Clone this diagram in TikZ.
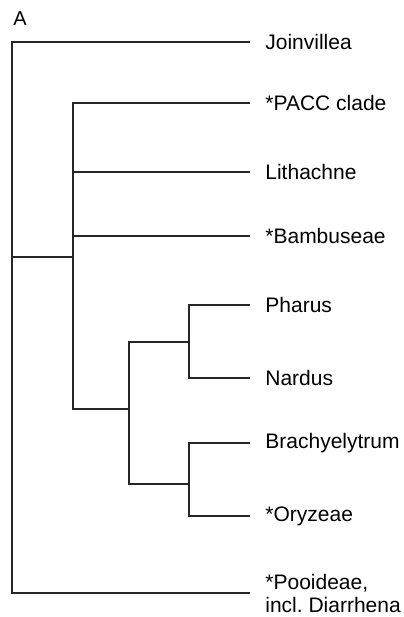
\documentclass[tikz,border=0pt]{standalone}
\usepackage{fontspec}
\setmainfont{Liberation Sans}

\begin{document}
\begin{tikzpicture}[x=0.5pt, y=-0.5pt,
    taxon/.style={anchor=west, inner sep=0pt, align=left,
      font=\fontsize{10.5}{11.5}\selectfont},
    branch/.style={line width=0.65pt, draw=black!85}]
  \useasboundingbox (0,0) rectangle (403,617);

  % panel letter
  \node[font=\fontsize{10}{11}\selectfont, inner sep=0pt] (panel) at (20,19) {A};

  % internal nodes of the tree
  \coordinate (root) at (12,257);
  \coordinate (nBop) at (73,257);
  \coordinate (nBop2) at (73,409);
  \coordinate (nPN) at (129,409);
  \coordinate (nPhNa) at (189,342);
  \coordinate (nBrOr) at (189,484);

  % tips and taxon labels
  \foreach \nm/\yy/\txt in {Join/42/Joinvillea, Pacc/103/*PACC clade,
      Lith/172/Lithachne, Bamb/236/*Bambuseae, Phar/305/Pharus,
      Nard/378/Nardus, Brac/443/Brachyelytrum, Oryz/516/*Oryzeae} {
    \coordinate (t\nm) at (250,\yy);
    \node[taxon] (l\nm) at (265,\yy) {\txt};
  }
  \coordinate (tPooi) at (250,593);
  \node[taxon] (lPooi) at (265,593) {*Pooideae,\\incl.\ Diarrhena};

  % branches
  \draw[branch] (root) |- (tJoin);
  \draw[branch] (root) |- (tPooi);
  \draw[branch] (root) -- (nBop);
  \draw[branch] (nBop) |- (tPacc);
  \draw[branch] (nBop) |- (tLith);
  \draw[branch] (nBop) |- (tBamb);
  \draw[branch] (nBop) -- (nBop2) -- (nPN);
  \draw[branch] (nPN) |- (nPhNa);
  \draw[branch] (nPN) |- (nBrOr);
  \draw[branch] (nPhNa) |- (tPhar);
  \draw[branch] (nPhNa) |- (tNard);
  \draw[branch] (nBrOr) |- (tBrac);
  \draw[branch] (nBrOr) |- (tOryz);
\end{tikzpicture}
\end{document}
